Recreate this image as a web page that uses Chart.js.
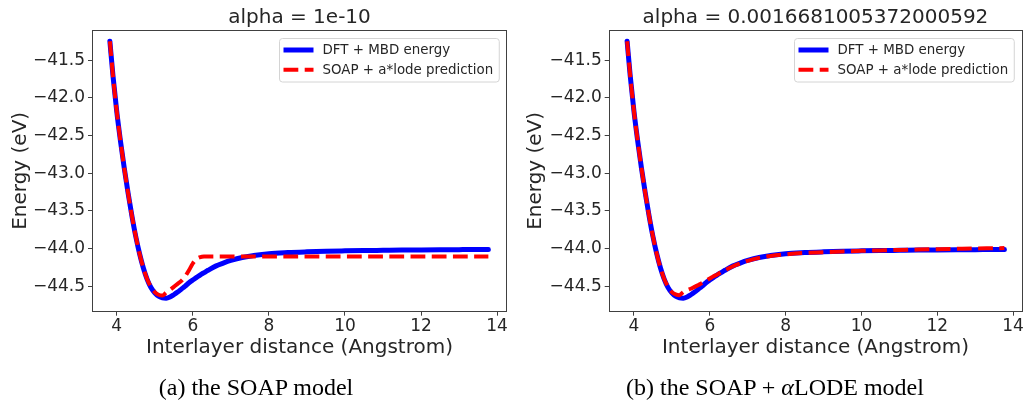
<!DOCTYPE html>
<html>
<head>
<meta charset="utf-8">
<script src="https://cdn.jsdelivr.net/npm/chart.js@4.4.1/dist/chart.umd.min.js"></script>
<style>
  html, body { margin: 0; padding: 0; background: #fff; }
  #page { position: relative; width: 1025px; height: 409px; overflow: hidden; }
  .panel { position: absolute; top: 0; height: 409px; }
  .caption {
    position: absolute; top: 373px;
    font-family: "Liberation Serif", "Times New Roman", serif;
    font-size: 24px; line-height: 28px; color: #000;
    text-align: center; white-space: nowrap;
  }
</style>
</head>
<body>
<div id="page">
  <div class="panel" style="left:0;width:512px"><canvas id="soapChart" width="512" height="409"></canvas></div>
  <div class="panel" style="left:512px;width:513px"><canvas id="lodeChart" width="513" height="409"></canvas></div>
  <div class="caption" style="left:0;width:512px">(a) the SOAP model</div>
  <div class="caption" style="left:512px;width:526px">(b) the SOAP + <i>α</i>LODE model</div>
</div>
<script>
// Interlayer distance (Angstrom)
const distance = [3.82, 3.9, 4.0, 4.1, 4.2, 4.3, 4.4, 4.5, 4.6, 4.7, 4.8, 4.9, 5.0, 5.1, 5.2,
  5.3, 5.4, 5.5, 5.6, 5.7, 5.8, 5.9, 6.0, 6.1, 6.2, 6.3, 6.4, 6.6, 6.8, 7.0, 7.3, 7.6, 8.0,
  8.5, 9.0, 9.5, 10.0, 10.5, 11.0, 11.5, 12.0, 12.5, 13.0, 13.5, 13.77];

// Reference DFT + MBD binding curve (eV)
const dftMbdEnergy = [-41.25, -41.70, -42.18, -42.58, -42.94, -43.27, -43.57, -43.84, -44.07,
  -44.26, -44.41, -44.52, -44.59, -44.635, -44.655, -44.66, -44.645, -44.615, -44.58, -44.54,
  -44.50, -44.455, -44.42, -44.385, -44.35, -44.32, -44.29, -44.235, -44.195, -44.16, -44.12,
  -44.095, -44.07, -44.055, -44.045, -44.037, -44.032, -44.028, -44.025, -44.022, -44.02,
  -44.018, -44.016, -44.014, -44.013];

// SOAP-only model (alpha = 1e-10)
const soapPrediction = [-41.25, -41.70, -42.18, -42.58, -42.94, -43.27, -43.57, -43.84, -44.07,
  -44.26, -44.41, -44.51, -44.58, -44.615, -44.625, -44.585, -44.55, -44.51, -44.47, -44.43,
  -44.37, -44.29, -44.20, -44.14, -44.115, -44.108, -44.107, -44.107, -44.106, -44.106, -44.107,
  -44.107, -44.107, -44.106, -44.106, -44.107, -44.107, -44.107, -44.106, -44.106, -44.107,
  -44.107, -44.107, -44.107, -44.107];

// SOAP + alpha*LODE model (alpha = 0.0016681005372000592)
const lodePrediction = [-41.25, -41.70, -42.18, -42.58, -42.94, -43.27, -43.57, -43.84, -44.07,
  -44.26, -44.41, -44.51, -44.58, -44.61, -44.62, -44.58, -44.555, -44.535, -44.51, -44.485,
  -44.46, -44.43, -44.40, -44.37, -44.345, -44.315, -44.29, -44.24, -44.20, -44.165, -44.125,
  -44.10, -44.078, -44.06, -44.05, -44.04, -44.032, -44.026, -44.02, -44.015, -44.01, -44.005,
  -44.0, -43.997, -43.995];

const xTicks = [4, 6, 8, 10, 12, 14];
const yTicks = [-44.5, -44.0, -43.5, -43.0, -42.5, -42.0, -41.5];

const FONT = '"DejaVu Sans", Verdana, sans-serif';
const INK = '#262626';

// legend box drawn inside the upper-right corner of the plot area
const innerLegend = {
  id: 'innerLegend',
  afterDatasetsDraw(chart) {
    const { ctx, chartArea } = chart;
    const sets = chart.data.datasets;
    ctx.save();
    ctx.font = '13.4px ' + FONT;
    const textW = Math.max(...sets.map(d => ctx.measureText(d.label).width));
    const w = 43 + textW + 6, h = 43.5;
    const x0 = Math.round(chartArea.right - 8 - w) + 0.5;
    const y0 = Math.round(chartArea.top + 8) + 0.5;
    ctx.beginPath();
    ctx.roundRect(x0, y0, w, h, 3);
    ctx.fillStyle = 'rgba(255,255,255,0.8)';
    ctx.fill();
    ctx.strokeStyle = '#d4d4d4';
    ctx.lineWidth = 1;
    ctx.stroke();
    sets.forEach((d, i) => {
      const yy = y0 + 11.5 + i * 19.7;
      ctx.beginPath();
      ctx.setLineDash(d.borderDash || []);
      ctx.strokeStyle = d.borderColor;
      ctx.lineWidth = d.borderWidth;
      ctx.lineCap = 'butt';
      ctx.moveTo(x0 + 4, yy);
      ctx.lineTo(x0 + 34, yy);
      ctx.stroke();
      ctx.setLineDash([]);
      ctx.fillStyle = INK;
      ctx.textBaseline = 'middle';
      ctx.fillText(d.label, x0 + 43, yy + 0.5);
    });
    ctx.restore();
  }
};

// four-sided frame around the plot area
const plotFrame = {
  id: 'plotFrame',
  afterDraw(chart) {
    const { ctx, chartArea: a } = chart;
    ctx.save();
    ctx.strokeStyle = '#404040';
    ctx.lineWidth = 1;
    ctx.strokeRect(Math.round(a.left) + 0.5, Math.round(a.top) + 0.5,
      Math.round(a.right - a.left) - 1, Math.round(a.bottom - a.top) - 1);
    ctx.restore();
  }
};

function energyChart(canvasId, titleText, prediction, opts) {
  const pts = vals => distance.map((x, i) => ({ x: x, y: vals[i] }));
  return new Chart(document.getElementById(canvasId), {
    type: 'line',
    data: {
      datasets: [
        {
          label: 'DFT + MBD energy',
          data: pts(dftMbdEnergy),
          order: 2,
          borderColor: '#0000ff',
          borderWidth: 5,
          borderCapStyle: 'round',
          pointRadius: 0,
          cubicInterpolationMode: 'monotone',
          fill: false
        },
        {
          label: 'SOAP + a*lode prediction',
          data: pts(prediction),
          order: 1,
          borderColor: '#ff0000',
          borderWidth: 4,
          borderDash: [14.8, 6.4],
          borderCapStyle: 'butt',
          pointRadius: 0,
          cubicInterpolationMode: 'monotone',
          fill: false
        }
      ]
    },
    options: {
      responsive: false,
      animation: false,
      events: [],
      layout: { padding: { left: 0, top: 0, right: opts.padRight, bottom: 49 } },
      plugins: {
        legend: { display: false },
        tooltip: { enabled: false },
        title: {
          display: true,
          text: titleText,
          fullSize: false,
          color: INK,
          font: { family: FONT, size: 20, weight: 'normal', lineHeight: 1.2 },
          padding: { top: 6, bottom: 0 }
        }
      },
      scales: {
        x: {
          type: 'linear',
          min: opts.xMin,
          max: opts.xMax,
          afterBuildTicks: s => { s.ticks = xTicks.map(v => ({ value: v })); },
          afterFit: s => { s.height = 48.3; },
          grid: { display: true, drawOnChartArea: false, drawTicks: true, tickLength: 4, color: '#404040' },
          border: { display: false },
          ticks: { color: INK, font: { family: FONT, size: 17 }, padding: 1, maxRotation: 0,
            callback: v => String(v) },
          title: {
            display: true,
            text: 'Interlayer distance (Angstrom)',
            color: INK,
            font: { family: FONT, size: 20, lineHeight: 1.2 },
            padding: { top: 0, bottom: 0 }
          }
        },
        y: {
          type: 'linear',
          min: -44.84,
          max: -41.10,
          afterBuildTicks: s => { s.ticks = yTicks.map(v => ({ value: v })); },
          afterFit: s => { s.width = opts.yWidth; },
          grid: { display: true, drawOnChartArea: false, drawTicks: true, tickLength: 4, color: '#404040' },
          border: { display: false },
          ticks: { color: INK, font: { family: FONT, size: 17 }, padding: 3,
            callback: v => v.toFixed(1).replace('-', '\u2212') },
          title: {
            display: true,
            text: 'Energy (eV)',
            color: INK,
            font: { family: FONT, size: 20, lineHeight: 1.2 },
            padding: { top: opts.yTitlePad, bottom: 0 }
          }
        }
      }
    },
    plugins: [plotFrame, innerLegend]
  });
}

energyChart('soapChart', 'alpha = 1e-10', soapPrediction,
  { xMin: 3.35, xMax: 14.26, yWidth: 92, padRight: 5, yTitlePad: 9 });
energyChart('lodeChart', 'alpha = 0.0016681005372000592', lodePrediction,
  { xMin: 3.334, xMax: 14.24, yWidth: 96.7, padRight: 2, yTitlePad: 12 });
</script>
</body>
</html>
